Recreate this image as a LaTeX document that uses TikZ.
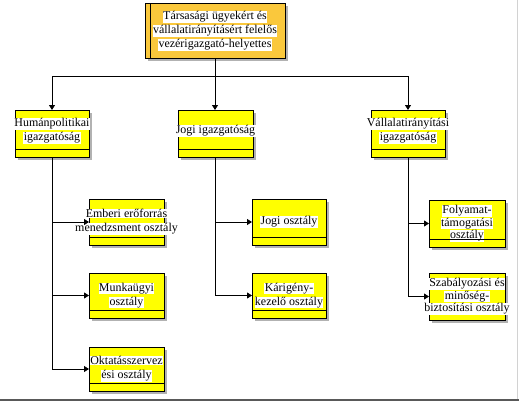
\documentclass[tikz,border=0pt]{standalone}
\usepackage{fontspec}
\setmainfont{Liberation Serif}
\usetikzlibrary{arrows.meta,shadows,fit}
\definecolor{boxyellow}{RGB}{255,255,0}
\definecolor{toporange}{RGB}{250,200,60}
\newcommand{\wl}[1]{{\setlength{\fboxsep}{0.4pt}\colorbox{white}{#1}}}
\tikzset{
  box/.style={draw=black, line width=0.8bp, inner sep=0pt, outer sep=0pt,
    drop shadow={shadow xshift=2.5bp, shadow yshift=-2.5bp, fill=black, opacity=0.3}},
  lbl/.style={align=center, font=\fontsize{12}{14}\selectfont, inner sep=0pt},
  lbltight/.style={lbl, font=\fontsize{12}{12.5}\selectfont},
  conn/.style={line width=0.8bp, draw=black},
  arr/.style={conn, -{Triangle[length=5bp,width=6bp]}},
}
\newcommand{\orgbox}[6]{%
  \node[box, fill=#4, fit={#2 #3}] (#1) {};
  \draw[conn] ([yshift=8bp]#1.south west) -- ([yshift=8bp]#1.south east);
  \node[lbl] (#1t) at ([yshift=#5]#1.center) {#6};
}
\begin{document}
\begin{tikzpicture}[x=1bp,y=-1bp]
\useasboundingbox (0,0) rectangle (519,401);
\fill[white] (0,0) rectangle (519,401);
% frame
\draw[gray!35, line width=1bp] (517,0) -- (517,400);
\draw[gray!70!black, line width=1.2bp] (0,400) -- (519,400);
% top box
\node[box, fill=toporange, fit={(145,3) (285,58)}] (top) {};
\draw[conn] ([xshift=5bp]top.north west) -- ([xshift=5bp]top.south west);
\node[lbl] (topt) at ([yshift=-0.5bp]top.center) {\wl{Társasági ügyekért és}\\\wl{vállalatirányításért felelős}\\\wl{vezérigazgató-helyettes}};
% level 2
\orgbox{hum}{(15,110)}{(89,157)}{boxyellow}{2.5bp}{\wl{Humánpolitikai}\\\wl{igazgatóság}}
\orgbox{jogi}{(178,110)}{(253,157)}{boxyellow}{2.5bp}{\wl{Jogi igazgatóság}}
\orgbox{vall}{(371,110)}{(445,157)}{boxyellow}{2.5bp}{\wl{Vállalatirányítási}\\\wl{igazgatóság}}
% level 3
\orgbox{emb}{(89,199)}{(164,245)}{boxyellow}{0bp}{\wl{Emberi erőforrás}\\\wl{menedzsment osztály}}
\orgbox{munk}{(89,273)}{(164,318)}{boxyellow}{0bp}{\wl{Munkaügyi}\\\wl{osztály}}
\orgbox{okt}{(89,347)}{(164,391)}{boxyellow}{0bp}{\wl{Oktatásszervez}\\\wl{ési osztály}}
\orgbox{jogo}{(252,199)}{(326,245)}{boxyellow}{0bp}{\wl{Jogi osztály}}
\orgbox{kar}{(252,273)}{(326,318)}{boxyellow}{0bp}{\wl{Kárigény-}\\\wl{kezelő osztály}}
\node[box, fill=boxyellow, fit={(429,200) (505,247)}] (foly) {};
\node[lbltight] (folyt) at (foly.center) {\wl{Folyamat-}\\\wl{támogatási}\\\wl{osztály}};
\draw[conn] ([yshift=8bp]foly.south west) -- ([yshift=8bp]foly.south east);
\node[box, fill=boxyellow, fit={(429,273) (505,320)}] (szab) {};
\draw[conn] ([yshift=8bp]szab.south west) -- ([yshift=8bp]szab.south east);
\node[lbltight] (szabt) at (szab.center) {\wl{Szabályozási és}\\\wl{minőség-}\\\wl{biztosítási osztály}};
% connectors top -> level 2
\draw[arr] (top.south) -- (top.south |- jogi.north);
\draw[conn] (hum.north |- 0,76) -- (vall.north |- 0,76);
\draw[arr] (hum.north |- 0,76) -- (hum.north);
\draw[arr] (vall.north |- 0,76) -- (vall.north);
% level 2 -> level 3
\draw[conn] (hum.south) -- (hum.south |- okt.west);
\foreach \c in {emb,munk,okt} \draw[arr] (hum.south |- \c.west) -- (\c.west);
\draw[conn] (jogi.south) -- (jogi.south |- kar.west);
\foreach \c in {jogo,kar} \draw[arr] (jogi.south |- \c.west) -- (\c.west);
\draw[conn] (vall.south) -- (vall.south |- szab.west);
\foreach \c in {foly,szab} \draw[arr] (vall.south |- \c.west) -- (\c.west);
\end{tikzpicture}
\end{document}
